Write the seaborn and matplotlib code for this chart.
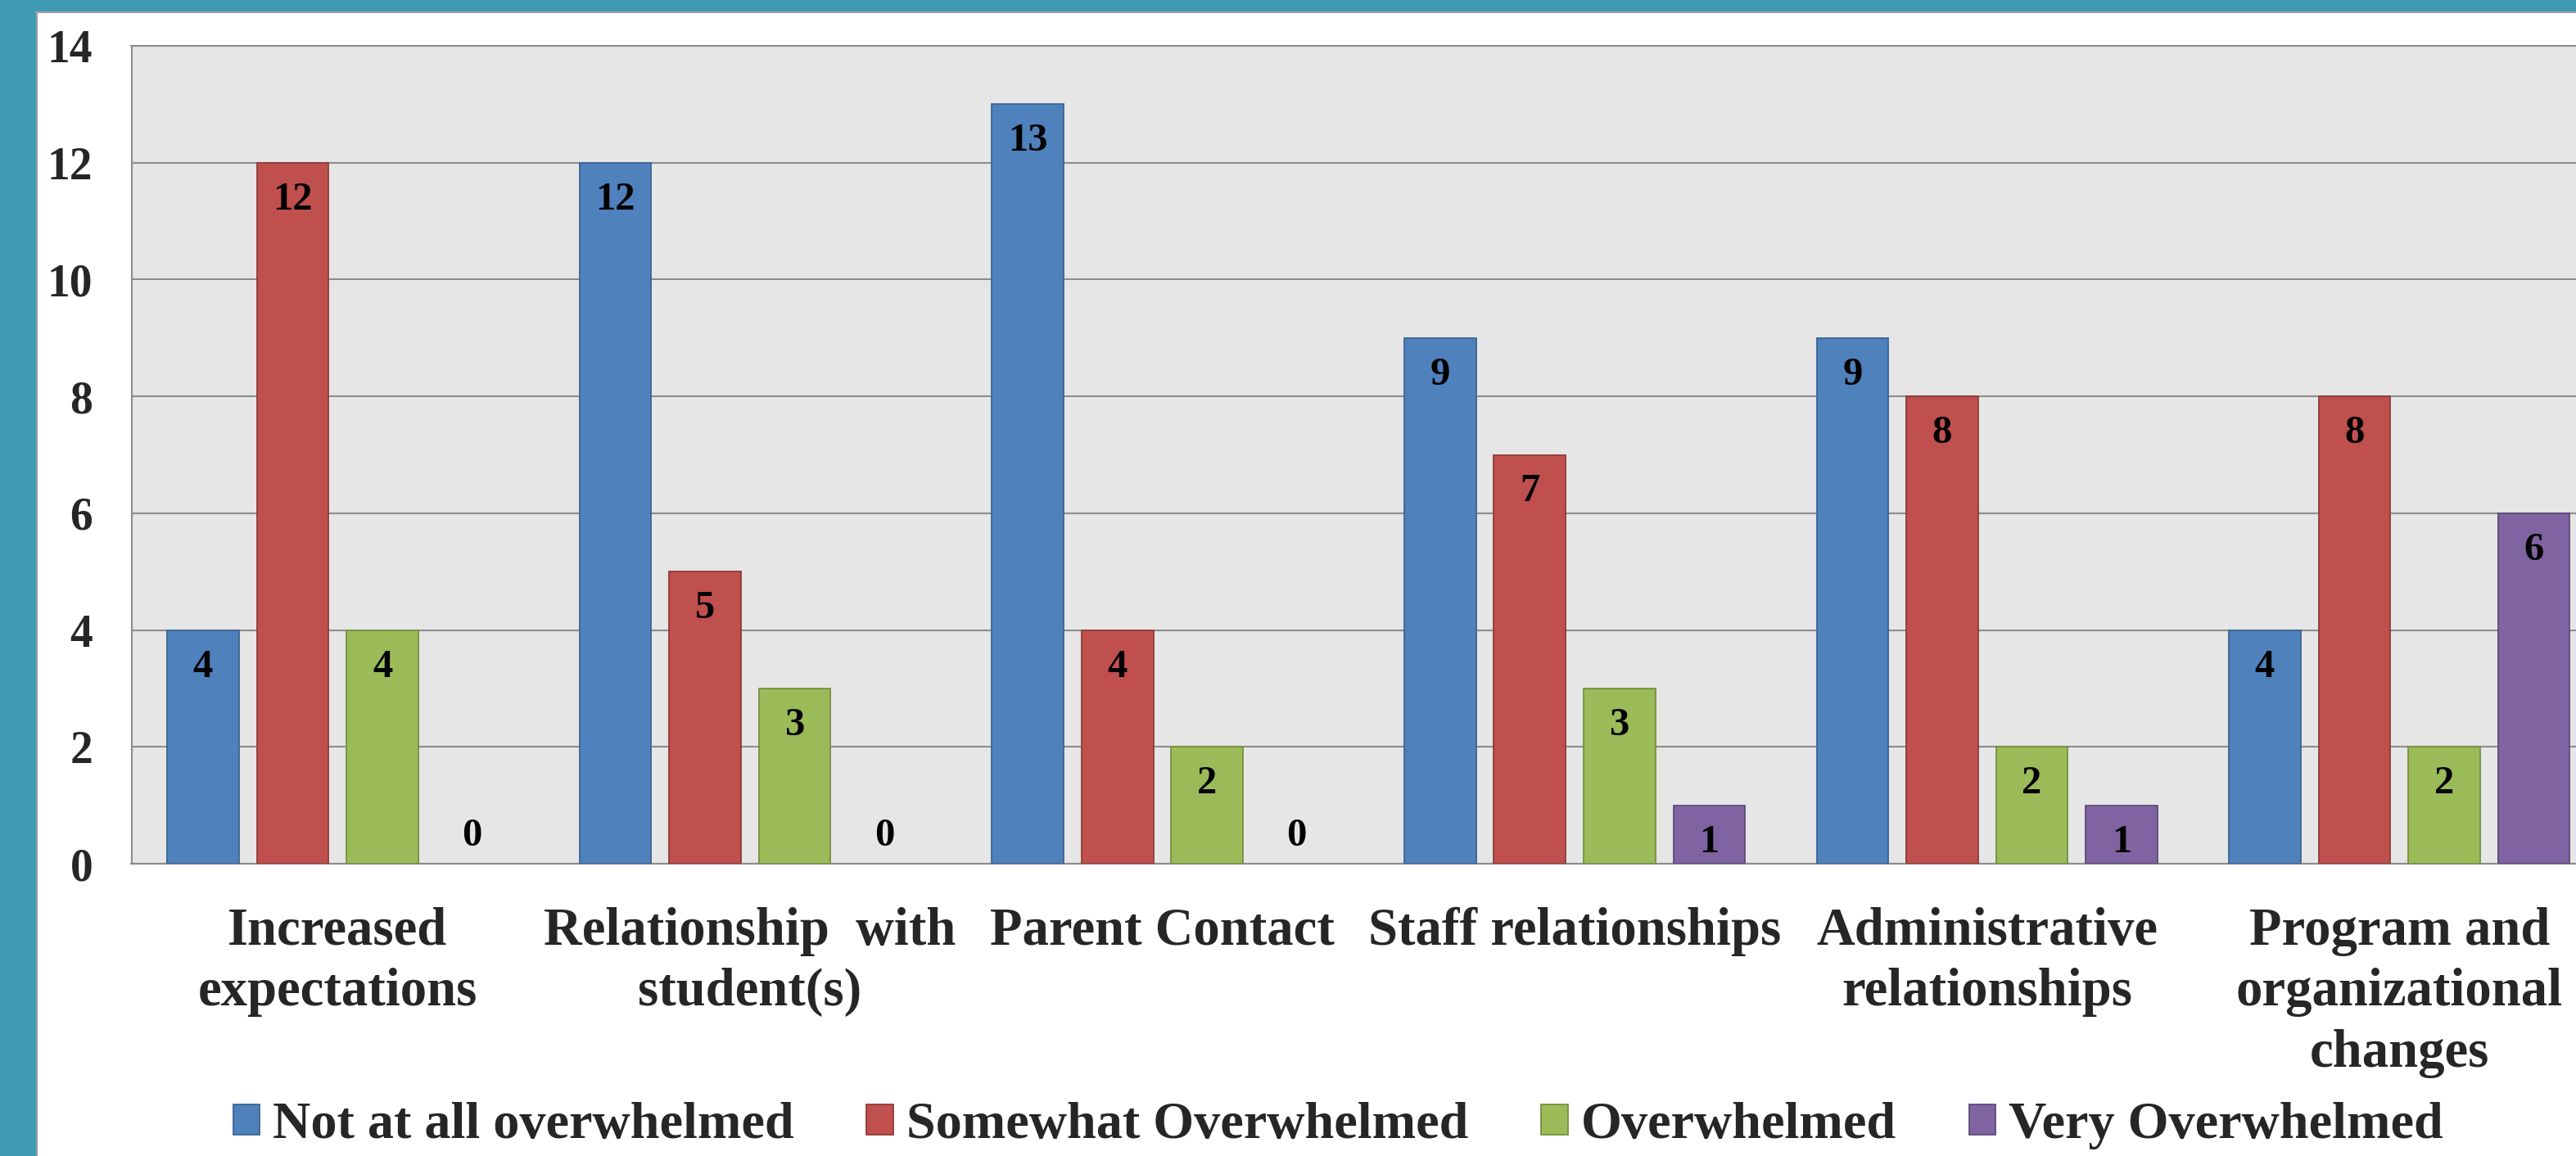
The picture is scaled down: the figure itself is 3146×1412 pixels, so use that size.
import matplotlib
matplotlib.use("Agg")
import matplotlib.pyplot as plt
from matplotlib.patches import Rectangle, Patch
from matplotlib.lines import Line2D
import pandas as pd
import seaborn as sns

# ---- data -------------------------------------------------------------
categories = [
    "Increased\nexpectations",
    "Relationship  with\nstudent(s)",
    "Parent Contact",
    "Staff relationships",
    "Administrative\nrelationships",
    "Program and\norganizational\nchanges",
]
series = ["Not at all overwhelmed", "Somewhat Overwhelmed", "Overwhelmed", "Very Overwhelmed"]
not_at_all = [4, 12, 13, 9, 9, 4]
somewhat = [12, 5, 4, 7, 8, 8]
overwhelmed = [4, 3, 2, 3, 2, 2]
very_overwhelmed = [0, 0, 0, 1, 1, 6]
y_ticks = [0, 2, 4, 6, 8, 10, 12, 14]

fill_colors = ["#4F81BD", "#C0504D", "#9BBB59", "#8064A2"]
edge_colors = ["#3A6592", "#8E3B39", "#74903F", "#5D4A7C"]
teal = "#3F9AB4"

values = [not_at_all, somewhat, overwhelmed, very_overwhelmed]
df = pd.DataFrame(
    [(cat, s, v[i]) for s, v in zip(series, values) for i, cat in enumerate(categories)],
    columns=["category", "series", "count"],
)

# ---- style ------------------------------------------------------------
sns.set_style("white")
plt.rcParams["font.family"] = ["Liberation Serif", "DejaVu Serif"]
plt.rcParams["font.weight"] = "bold"

W, H = 3146, 1412
fig = plt.figure(figsize=(W / 100, H / 100), dpi=100)
fig.patch.set_facecolor("white")

left_px, right_px, top_px, bottom_px = 160.5, 3182.0, 56.0, 1055.0
ax = fig.add_axes([left_px / W, 1 - bottom_px / H,
                   (right_px - left_px) / W, (bottom_px - top_px) / H])
ax.set_facecolor("#E6E6E6")

sns.barplot(
    data=df, x="category", y="count", hue="series",
    order=categories, hue_order=series, palette=fill_colors,
    width=0.87, gap=0.2, saturation=1, legend=False, ax=ax,
)

for i, container in enumerate(ax.containers):
    for bar in container:
        h = bar.get_height()
        bar.set_edgecolor(edge_colors[i])
        bar.set_linewidth(1.3 if h > 0 else 0)
        bar.set_zorder(3)
        xc = bar.get_x() + bar.get_width() / 2
        offset = -41 if h > 0 else 15.5
        ax.annotate(f"{h:.0f}", (xc, h), xytext=(0, offset), textcoords="offset points",
                    ha="center", va="baseline", fontsize=35, fontweight="bold",
                    color="black", zorder=4)

ax.set_xlim(-0.5, len(categories) - 0.5)
ax.set_ylim(0, 14)
ax.set_yticks(y_ticks)
ax.set_yticklabels([str(t) for t in y_ticks], fontsize=40, fontweight="bold")
ax.set_xticks(range(len(categories)))
ax.set_xticklabels(categories, fontsize=46.5, fontweight="bold", linespacing=1.32)
ax.set_xlabel("")
ax.set_ylabel("")
ax.tick_params(axis="y", length=0, pad=34)
ax.tick_params(axis="x", length=0, pad=38)

ax.yaxis.grid(True, color="#8C8C8C", linewidth=1.5)
ax.xaxis.grid(False)
ax.set_axisbelow(True)
for sp in ax.spines.values():
    sp.set_visible(True)
    sp.set_color("#8C8C8C")
    sp.set_linewidth(1.5)

# ---- legend -----------------------------------------------------------
handles = [Patch(facecolor=f, edgecolor=e, linewidth=1.3) for f, e in zip(fill_colors, edge_colors)]
fig.legend(handles, series, loc="center", bbox_to_anchor=(0.5195, 1 - 1375 / H),
           ncol=4, frameon=False, prop={"family": "Liberation Serif", "weight": "bold", "size": 46.2},
           handlelength=0.51, handleheight=0.51, handletextpad=0.25, columnspacing=1.38,
           borderaxespad=0, borderpad=0)

# ---- slide frame ------------------------------------------------------
fig.patches.append(Rectangle((0, 0), 44 / W, 1, transform=fig.transFigure,
                             facecolor=teal, edgecolor="none", zorder=10))
fig.patches.append(Rectangle((0, 1 - 14 / H), 1, 14 / H, transform=fig.transFigure,
                             facecolor=teal, edgecolor="none", zorder=10))
fig.lines.append(Line2D([44.5 / W, 44.5 / W], [0, 1 - 14 / H], transform=fig.transFigure,
                        color="#A0A0A0", linewidth=1.5, zorder=11))
fig.lines.append(Line2D([44 / W, 1], [1 - 14.5 / H, 1 - 14.5 / H], transform=fig.transFigure,
                        color="#A0A0A0", linewidth=1.5, zorder=11))

fig.savefig("out.png", dpi=100, facecolor=fig.get_facecolor())
